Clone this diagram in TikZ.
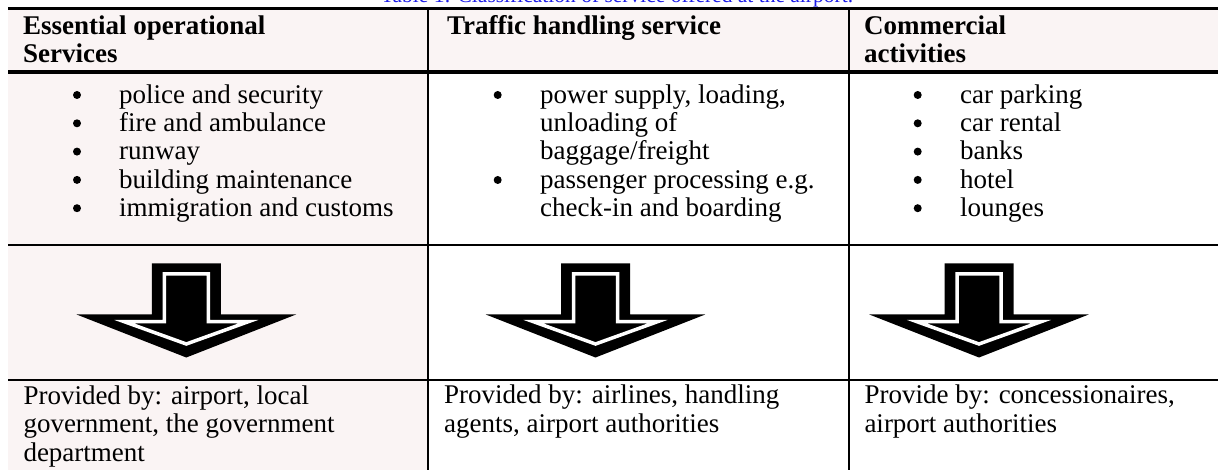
\documentclass[tikz,border=0pt]{standalone}
\usepackage{fontspec}
\setmainfont{Liberation Serif}
\usepackage{xcolor}
\usepackage{tikz}
\definecolor{cellpink}{RGB}{250,244,244}
\definecolor{captionblue}{RGB}{28,28,232}

\begin{document}
\begin{tikzpicture}[x=1pt, y=-1pt,
        cell/.style={anchor=base west, inner sep=0pt, font=\fontsize{27}{29}\selectfont},
        headcell/.style={anchor=base west, inner sep=0pt, font=\fontsize{27}{29}\selectfont\bfseries},
        rimline/.style={draw=white, line width=3.5pt, fill=black}]
                % Page
                \useasboundingbox (0,0) rectangle (1218,470);
                \clip (0,0) rectangle (1218,470);

                % Shading
                \fill[cellpink] (8,8) rectangle (1218,72);
                \fill[cellpink] (8,72) rectangle (428,470);

                % Caption, cut by the top edge
                \node[anchor=base, inner sep=0pt, text=captionblue, font=\fontsize{21.5}{23}\selectfont] (caption) at (617,2.5) {Table 1: Classification of service offered at the airport.};

                % Rules
                \draw[line width=3pt] (8,8.3) -- (1218,8.3);
                \draw[line width=3.3pt] (8,72) -- (1218,72);
                \draw[line width=1.8pt] (8,245) -- (1218,245);
                \draw[line width=2.6pt] (8,380) -- (1218,380);
                \draw[line width=2.3pt] (428,8) -- (428,470);
                \draw[line width=2.3pt] (849,8) -- (849,470);

                % Header
                \node[headcell] (essA) at (23,34.5) {Essential operational};
                \node[headcell] (essB) at (23,63) {Services};
                \node[headcell] (traffic) at (447,34.5) {Traffic handling service};
                \node[headcell] (comA) at (864,34.5) {Commercial};
                \node[headcell] (comB) at (864,63) {activities};

                % Services
                \foreach \t [count=\i] in {police and security, fire and ambulance, runway, building maintenance, immigration and customs}{
                    \fill (77,{75+28.3*\i-8.3}) circle (4pt);
                    \node[cell] (ess\i) at (119,{75+28.3*\i}) {\t};
                }
                \fill (497.7,95) circle (4pt);
                \node[cell] (trafA) at (540,103.3) {power supply, loading,};
                \node[cell] (trafB) at (540,131.6) {unloading of};
                \node[cell] (trafC) at (540,160) {baggage/freight};
                \fill (497.7,180) circle (4pt);
                \node[cell] (trafD) at (540,188.3) {passenger processing e.g.};
                \node[cell] (trafE) at (540,216.6) {check-in and boarding};
                \foreach \t [count=\i] in {car parking, car rental, banks, hotel, lounges}{
                    \fill (917.7,{75+28.3*\i-8.3}) circle (4pt);
                    \node[cell] (com\i) at (960,{75+28.3*\i}) {\t};
                }

                % Arrows
                \foreach \cx in {186.3,595.5,979}{
                    \fill (\cx-34.5,263.5) -- (\cx+34.5,263.5) -- (\cx+34.5,314.5) -- (\cx+109.7,314.5)
                        -- (\cx,357.5) -- (\cx-109.7,314.5) -- (\cx-34.5,314.5) -- cycle;
                    \filldraw[rimline] (\cx-22,274) -- (\cx+22,274) -- (\cx+22,321.7) -- (\cx+62,321.7)
                        -- (\cx,344) -- (\cx-62,321.7) -- (\cx-22,321.7) -- cycle;
                }

                % Providers
                \node[cell] (provA) at (23.3,404) {Provided by: airport, local};
                \node[cell] (provB) at (23.3,432.5) {government, the government};
                \node[cell] (provC) at (23.3,461) {department};
                \node[cell] (provD) at (444,403.5) {Provided by: airlines, handling};
                \node[cell] (provE) at (444,432) {agents, airport authorities};
                \node[cell] (provF) at (864.3,403.5) {Provide by: concessionaires,};
                \node[cell] (provG) at (864.3,432) {airport authorities};
            \end{tikzpicture}
\end{document}
